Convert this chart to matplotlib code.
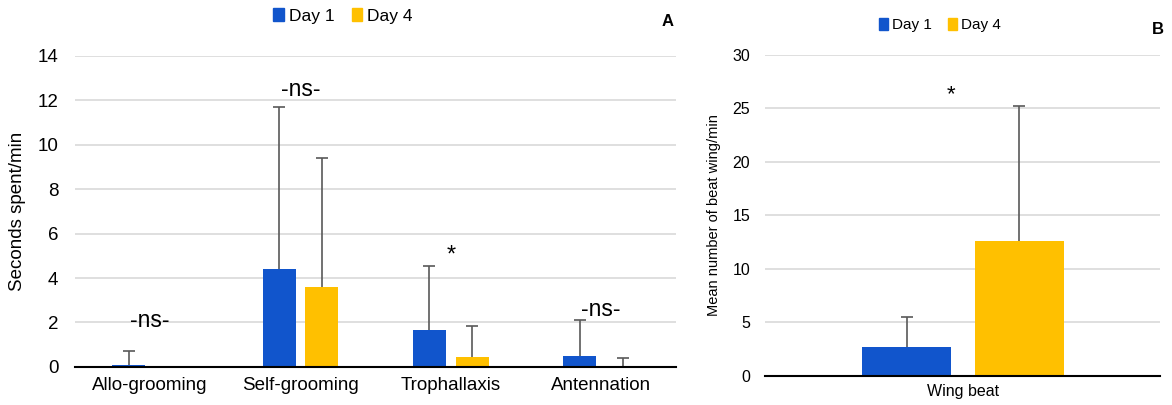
import matplotlib.pyplot as plt
import numpy as np
from matplotlib.patches import Patch

plt.rcParams['font.family'] = ['Liberation Sans', 'DejaVu Sans']

# panel A: behaviours, seconds spent per minute
behaviours = ['Allo-grooming', 'Self-grooming', 'Trophallaxis', 'Antennation']
day1_mean = [0.08, 4.4, 1.65, 0.5]
day1_err = [0.62, 7.3, 2.9, 1.6]
day4_mean = [0.0, 3.6, 0.45, 0.0]
day4_err = [0.0, 5.8, 1.4, 0.4]
signif_a = ['-ns-', '-ns-', '*', '-ns-']
signif_a_y = [2.1, 12.5, 5.0, 2.6]

# panel B: wing beats per minute
wing_cat = ['Wing beat']
wing_day1 = [2.7]
wing_day1_err = [2.8]
wing_day4 = [12.6]
wing_day4_err = [12.6]
signif_b = ['*']
signif_b_y = [26.3]

blue = '#1155CC'
gold = '#FFC000'
errc = '#595959'
gridc = '#d9d9d9'

fig = plt.figure(figsize=(11.72, 4.05), dpi=100)
axA = fig.add_axes([0.064, 0.094, 0.513, 0.768])
axB = fig.add_axes([0.653, 0.0716, 0.337, 0.793])


def style(ax):
    for s in ['top', 'right', 'left']:
        ax.spines[s].set_visible(False)
    ax.spines['bottom'].set_color('black')
    ax.spines['bottom'].set_linewidth(1.5)
    ax.spines['bottom'].set_zorder(4)
    ax.tick_params(length=0)
    ax.yaxis.grid(True, color=gridc, linewidth=1.2)
    ax.set_axisbelow(True)


def upper_err(ax, xs, ys, errs):
    # one-sided error bars: drop the cap at the bar top
    xs = np.asarray(xs, float)
    ys = np.asarray(ys, float)
    errs = np.asarray(errs, float)
    keep = errs > 0
    c = ax.errorbar(xs[keep], ys[keep], yerr=[np.zeros(keep.sum()), errs[keep]],
                    fmt='none', ecolor=errc, elinewidth=1.2, capsize=4,
                    capthick=1.2, zorder=3)
    c.lines[1][0].set_visible(False)


# --- A
x = np.arange(len(behaviours))
w = 0.22
gap = 0.065
off = (w + gap) / 2
axA.bar(x - off, day1_mean, w, color=blue, zorder=2)
axA.bar(x + off, day4_mean, w, color=gold, zorder=2)
upper_err(axA, x - off, day1_mean, day1_err)
upper_err(axA, x + off, day4_mean, day4_err)
for i, (t, yy) in enumerate(zip(signif_a, signif_a_y)):
    axA.text(x[i], yy, t, ha='center', va='center',
             fontsize=17 if t == '*' else 16.5)
axA.set_xlim(-0.5, len(behaviours) - 0.5)
axA.set_ylim(0, 14)
axA.set_yticks(range(0, 15, 2))
axA.set_xticks(x)
axA.set_xticklabels(behaviours, fontsize=13.5)
axA.tick_params(axis='y', labelsize=13.5, pad=12)
axA.tick_params(axis='x', pad=7)
axA.set_ylabel('Seconds spent/min', fontsize=13.5, labelpad=8)
style(axA)

# --- B
xb = np.arange(len(wing_cat))
wb = 0.225
gb = 0.06
ob = (wb + gb) / 2
axB.bar(xb - ob, wing_day1, wb, color=blue, zorder=2)
axB.bar(xb + ob, wing_day4, wb, color=gold, zorder=2)
upper_err(axB, xb - ob, wing_day1, wing_day1_err)
upper_err(axB, xb + ob, wing_day4, wing_day4_err)
for i, (t, yy) in enumerate(zip(signif_b, signif_b_y)):
    axB.text(xb[i] - 0.03, yy, t, ha='center', va='center', fontsize=16)
axB.set_xlim(-0.5, 0.5)
axB.set_ylim(0, 30)
axB.set_yticks(range(0, 31, 5))
axB.set_xticks(xb)
axB.set_xticklabels(wing_cat, fontsize=11.5)
axB.tick_params(axis='y', labelsize=11.5, pad=11)
axB.tick_params(axis='x', pad=6)
axB.set_ylabel('Mean number of beat wing/min', fontsize=10.5, labelpad=8)
style(axB)

handles = [Patch(color=blue, label='Day 1'), Patch(color=gold, label='Day 4')]
lk = dict(loc='center', ncol=2, frameon=False, handlelength=0.6, handleheight=0.8,
          handletextpad=0.3, columnspacing=1.0, borderpad=0)
fig.legend(handles=handles, bbox_to_anchor=(343 / 1172, 1 - 16 / 405), fontsize=12.5, **lk)
fig.legend(handles=handles, bbox_to_anchor=(940 / 1172, 1 - 25 / 405), fontsize=11, **lk)

fig.text(668 / 1172, 1 - 21 / 405, 'A', fontsize=12, fontweight='bold', ha='center', va='center')
fig.text(1158 / 1172, 1 - 30 / 405, 'B', fontsize=12, fontweight='bold', ha='center', va='center')

fig.savefig('out.png', dpi=100)
